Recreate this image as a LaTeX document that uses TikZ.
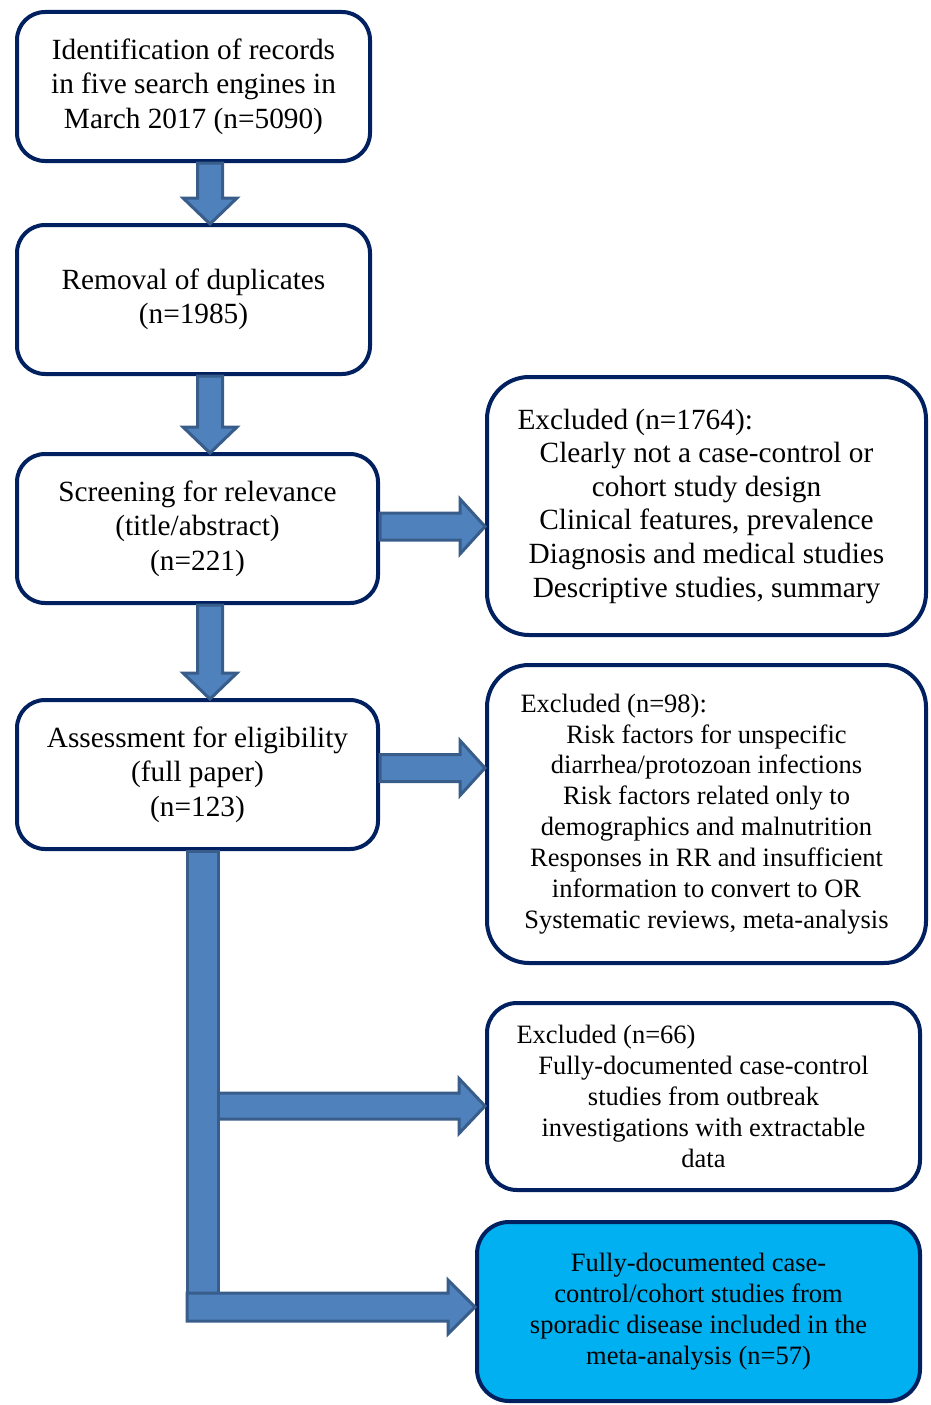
\documentclass[tikz,border=0pt]{standalone}
\usepackage{fontspec}
\setmainfont{Liberation Serif}
\usetikzlibrary{calc}
\definecolor{bordernavy}{HTML}{002060}
\definecolor{arrowfill}{HTML}{4F81BD}
\definecolor{arrowedge}{HTML}{385D8A}
\definecolor{finalcyan}{HTML}{00B0F0}
\tikzset{
  box/.style={draw=bordernavy, line width=4pt, rounded corners=28pt, fill=white,
    inner sep=0pt, align=center, font=\fontsize{29.3}{34.5}\selectfont},
  sbox/.style={box, font=\fontsize{26.5}{30.9}\selectfont},
  blockarrow/.style={draw=arrowedge, fill=arrowfill, line width=3pt, line join=miter},
}
% down block arrow: x, from node, to node
\newcommand\flowdown[3]{%
  \draw[blockarrow] let \p1=(#2.south), \p2=(#3.north) in
  (#1-12.5,\y1) -- (#1+12.5,\y1) -- (#1+12.5,\y2+25) -- (#1+27,\y2+25) --
  (#1,\y2-1) -- (#1-27,\y2+25) -- (#1-12.5,\y2+25) -- cycle;}
% right block arrow: y, from point, to point, shaft half, head half, head length
\newcommand\flowright[6]{%
  \draw[blockarrow] let \p1=#2, \p2=#3 in
  (\x1,-#1+#4) -- (\x2-#6,-#1+#4) -- (\x2-#6,-#1+#5) -- (\x2,-#1) --
  (\x2-#6,-#1-#5) -- (\x2-#6,-#1-#4) -- (\x1,-#1-#4) -- cycle;}
\begin{document}
\begin{tikzpicture}[x=1pt,y=1pt]
\useasboundingbox (0,0) rectangle (930,-1405);

\node[box, minimum width=353, minimum height=149] (b1) at (193.5,-86.5)
  {Identification of records\\in five search engines in\\March 2017 (n=5090)};
\node[box, minimum width=353, minimum height=149] (b2) at (193.5,-299.5)
  {Removal of duplicates\\(n=1985)};
\node[box, minimum width=361, minimum height=149] (b3) at (197.5,-528.5)
  {Screening for relevance\\(title/abstract)\\(n=221)};
\node[box, minimum width=361, minimum height=149] (b4) at (197.5,-774.5)
  {Assessment for eligibility\\(full paper)\\(n=123)};

\node[box, rounded corners=42pt, minimum width=439, minimum height=258,
  font=\fontsize{29.3}{33.6}\selectfont] (A) at (706.5,-506)
  {\makebox[378pt][l]{Excluded (n=1764):}\\Clearly not a case-control or\\cohort study design\\Clinical features, prevalence\\Diagnosis and medical studies\\Descriptive studies, summary};
\node[sbox, rounded corners=42pt, minimum width=439, minimum height=298] (B) at (706.5,-814)
  {\makebox[372pt][l]{Excluded (n=98):}\\Risk factors for unspecific\\diarrhea/protozoan infections\\Risk factors related only to\\demographics and malnutrition\\Responses in RR and insufficient\\information to convert to OR\\Systematic reviews, meta-analysis};
\node[sbox, rounded corners=30pt, minimum width=433, minimum height=187] (C) at (703.5,-1096.5)
  {\makebox[374pt][l]{Excluded (n=66)}\\Fully-documented case-control\\studies from outbreak\\investigations with extractable\\data};
\node[sbox, rounded corners=32pt, fill=finalcyan, minimum width=443, minimum height=179] (D) at (698.5,-1311.5)
  {Fully-documented case-\\control/cohort studies from\\sporadic disease included in the\\meta-analysis (n=57)};

\flowdown{210}{b1}{b2}
\flowdown{210}{b2}{b3}
\flowdown{210}{b3}{b4}

\flowright{526.5}{(b3.east)}{(A.west)}{13.5}{27.5}{25}
\flowright{768}{(b4.east)}{(B.west)}{13.5}{27.5}{25}

\coordinate (trunkC) at (218,-1106);
\coordinate (trunkD) at (187,-1307);
\flowright{1106}{(trunkC)}{(C.west)}{13}{27.5}{26}
\draw[blockarrow] let \p1=(b4.south) in (187,\y1) rectangle (218,-1300);
\flowright{1307}{(trunkD)}{(D.west)}{14}{27}{27}
\end{tikzpicture}
\end{document}
